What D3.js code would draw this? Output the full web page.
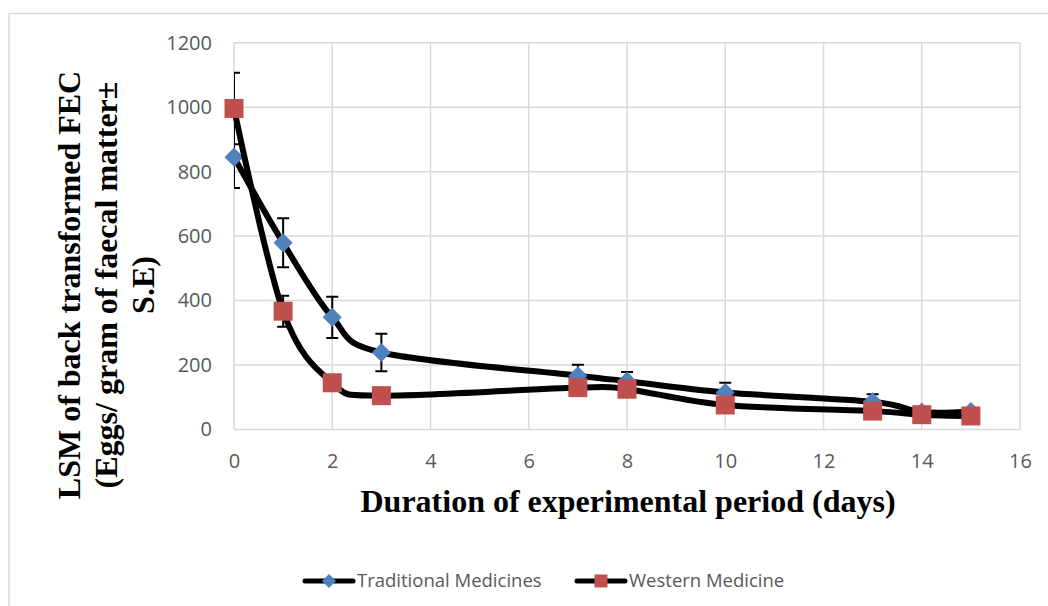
<!DOCTYPE html>
<html lang="en">
<head>
  <meta charset="UTF-8">
  <title>LSM of back transformed FEC</title>
  <script src="https://d3js.org/d3.v7.min.js"></script>
  <style>
    body { margin: 0; background: #fff; }
    .grid line { stroke: #d9d9d9; stroke-width: 1.5; }
    .tick text { font-family: "Open Sans", sans-serif; font-size: 20px; fill: #595959; }
    .title { font-family: "Liberation Serif", "Times New Roman", serif; font-weight: bold; font-size: 32px; fill: #000; }
    .legend text { font-family: "Open Sans", sans-serif; font-size: 18.5px; fill: #595959; }
    .err { stroke: #000; stroke-width: 2; fill: none; }
    .curve { stroke: #000; stroke-width: 6; fill: none; stroke-linejoin: round; }
  </style>
</head>
<body>
  <svg id="chart" width="1048" height="606"></svg>

  <script>
    // data
    const days = [0, 1, 2, 3, 7, 8, 10, 13, 14, 15];
    const tradMeans = [845, 579, 348, 239, 167, 150, 115, 86, 54, 56];
    const tradErr = [96, 76, 64, 58, 34, 28, 30, 23, 5, 5];
    const westMeans = [996, 367, 145, 105, 130, 125, 76, 57, 46, 42];
    const westErr = [111, 48, 20, 15, 10, 10, 8, 8, 6, 6];
    const xTicks = [0, 2, 4, 6, 8, 10, 12, 14, 16];
    const yTicks = [0, 200, 400, 600, 800, 1000, 1200];
    const seriesNames = ["Traditional Medicines", "Western Medicine"];

    const svg = d3.select("#chart");
    const x = d3.scaleLinear().domain([0, 16]).range([234, 1020]);
    const y = d3.scaleLinear().domain([0, 1200]).range([429.5, 42.7]);

    // outer chart border
    svg.append("rect")
      .attr("x", 9).attr("y", 13.5).attr("width", 1050).attr("height", 600)
      .attr("fill", "none").attr("stroke", "#d9d9d9").attr("stroke-width", 1.5);

    svg.append("clipPath").attr("id", "plot")
      .append("rect")
      .attr("x", x(0)).attr("y", y(1200))
      .attr("width", x(16) - x(0)).attr("height", y(0) - y(1200));

    // gridlines
    const grid = svg.append("g").attr("class", "grid");
    grid.selectAll(".h").data(yTicks).join("line")
      .attr("x1", x(0)).attr("x2", x(16))
      .attr("y1", d => y(d)).attr("y2", d => y(d));
    grid.selectAll(".v").data(xTicks).join("line")
      .attr("y1", y(0)).attr("y2", y(1200))
      .attr("x1", d => x(d)).attr("x2", d => x(d));

    // axes (labels only)
    svg.append("g")
      .attr("transform", `translate(${x(0)},0)`)
      .call(d3.axisLeft(y).tickValues(yTicks).tickFormat(d3.format("d")).tickSize(0).tickPadding(22))
      .call(g => g.select(".domain").remove());
    svg.append("g")
      .attr("transform", `translate(0,${y(0)})`)
      .call(d3.axisBottom(x).tickValues(xTicks).tickFormat(d3.format("d")).tickSize(0).tickPadding(24))
      .call(g => g.select(".domain").remove());

    const line = d3.line()
      .x(d => x(d[0]))
      .y(d => y(d[1]))
      .curve(d3.curveCatmullRom.alpha(0));

    const series = [
      { means: tradMeans, err: tradErr, color: "#4f81bd", shape: "diamond" },
      { means: westMeans, err: westErr, color: "#c0504d", shape: "square" }
    ];

    function marker(sel, shape, big) {
      if (shape === "diamond") {
        sel.attr("d", d3.symbol(d3.symbolSquare, big ? 182 : 100)())
          .attr("transform", function () { return d3.select(this).attr("transform") + " rotate(45)"; });
      } else {
        sel.attr("d", d3.symbol(d3.symbolSquare, big ? 361 : 169)());
      }
    }

    series.forEach(s => {
      const pts = days.map((d, i) => [d, s.means[i], s.err[i]]);

      svg.append("path").datum(pts).attr("class", "curve").attr("d", line);

      const eb = svg.append("g").attr("clip-path", "url(#plot)");
      pts.forEach(p => {
        const cx = x(p[0]);
        eb.append("line").attr("class", "err")
          .attr("x1", cx).attr("x2", cx)
          .attr("y1", y(p[1] + p[2])).attr("y2", y(p[1] - p[2]));
        [p[1] + p[2], p[1] - p[2]].forEach(v => {
          eb.append("line").attr("class", "err")
            .attr("x1", cx - 6).attr("x2", cx + 6)
            .attr("y1", y(v)).attr("y2", y(v));
        });
      });

      svg.append("g").selectAll("path").data(pts).join("path")
        .attr("fill", s.color)
        .attr("transform", d => `translate(${x(d[0])},${y(d[1])})`)
        .each(function () { marker(d3.select(this), s.shape, true); });
    });

    // axis titles
    svg.append("text").attr("class", "title")
      .attr("x", (x(0) + x(16)) / 2 + 1).attr("y", 512)
      .attr("text-anchor", "middle")
      .text("Duration of experimental period (days)");

    const yTitle = ["LSM of back transformed FEC", "(Eggs/ gram of faecal matter\u00b1", "S.E)"];
    svg.append("text").attr("class", "title")
      .attr("transform", "translate(80,285) rotate(-90)")
      .attr("text-anchor", "middle")
      .selectAll("tspan").data(yTitle).join("tspan")
      .attr("x", 0).attr("dy", (d, i) => i === 0 ? 0 : 37)
      .text(d => d);

    // legend
    const legend = svg.append("g").attr("class", "legend");
    const legX = [305, 577];
    series.forEach((s, i) => {
      const g = legend.append("g").attr("transform", `translate(${legX[i]},581)`);
      g.append("line").attr("x1", 0).attr("x2", 48).attr("y1", 0).attr("y2", 0)
        .attr("stroke", "#000").attr("stroke-width", 5).attr("stroke-linecap", "round");
      g.append("path").attr("fill", s.color)
        .attr("transform", "translate(24,0)")
        .each(function () { marker(d3.select(this), s.shape, false); });
      g.append("text").attr("x", 52).attr("y", 6).text(seriesNames[i]);
    });
  </script>
</body>
</html>
